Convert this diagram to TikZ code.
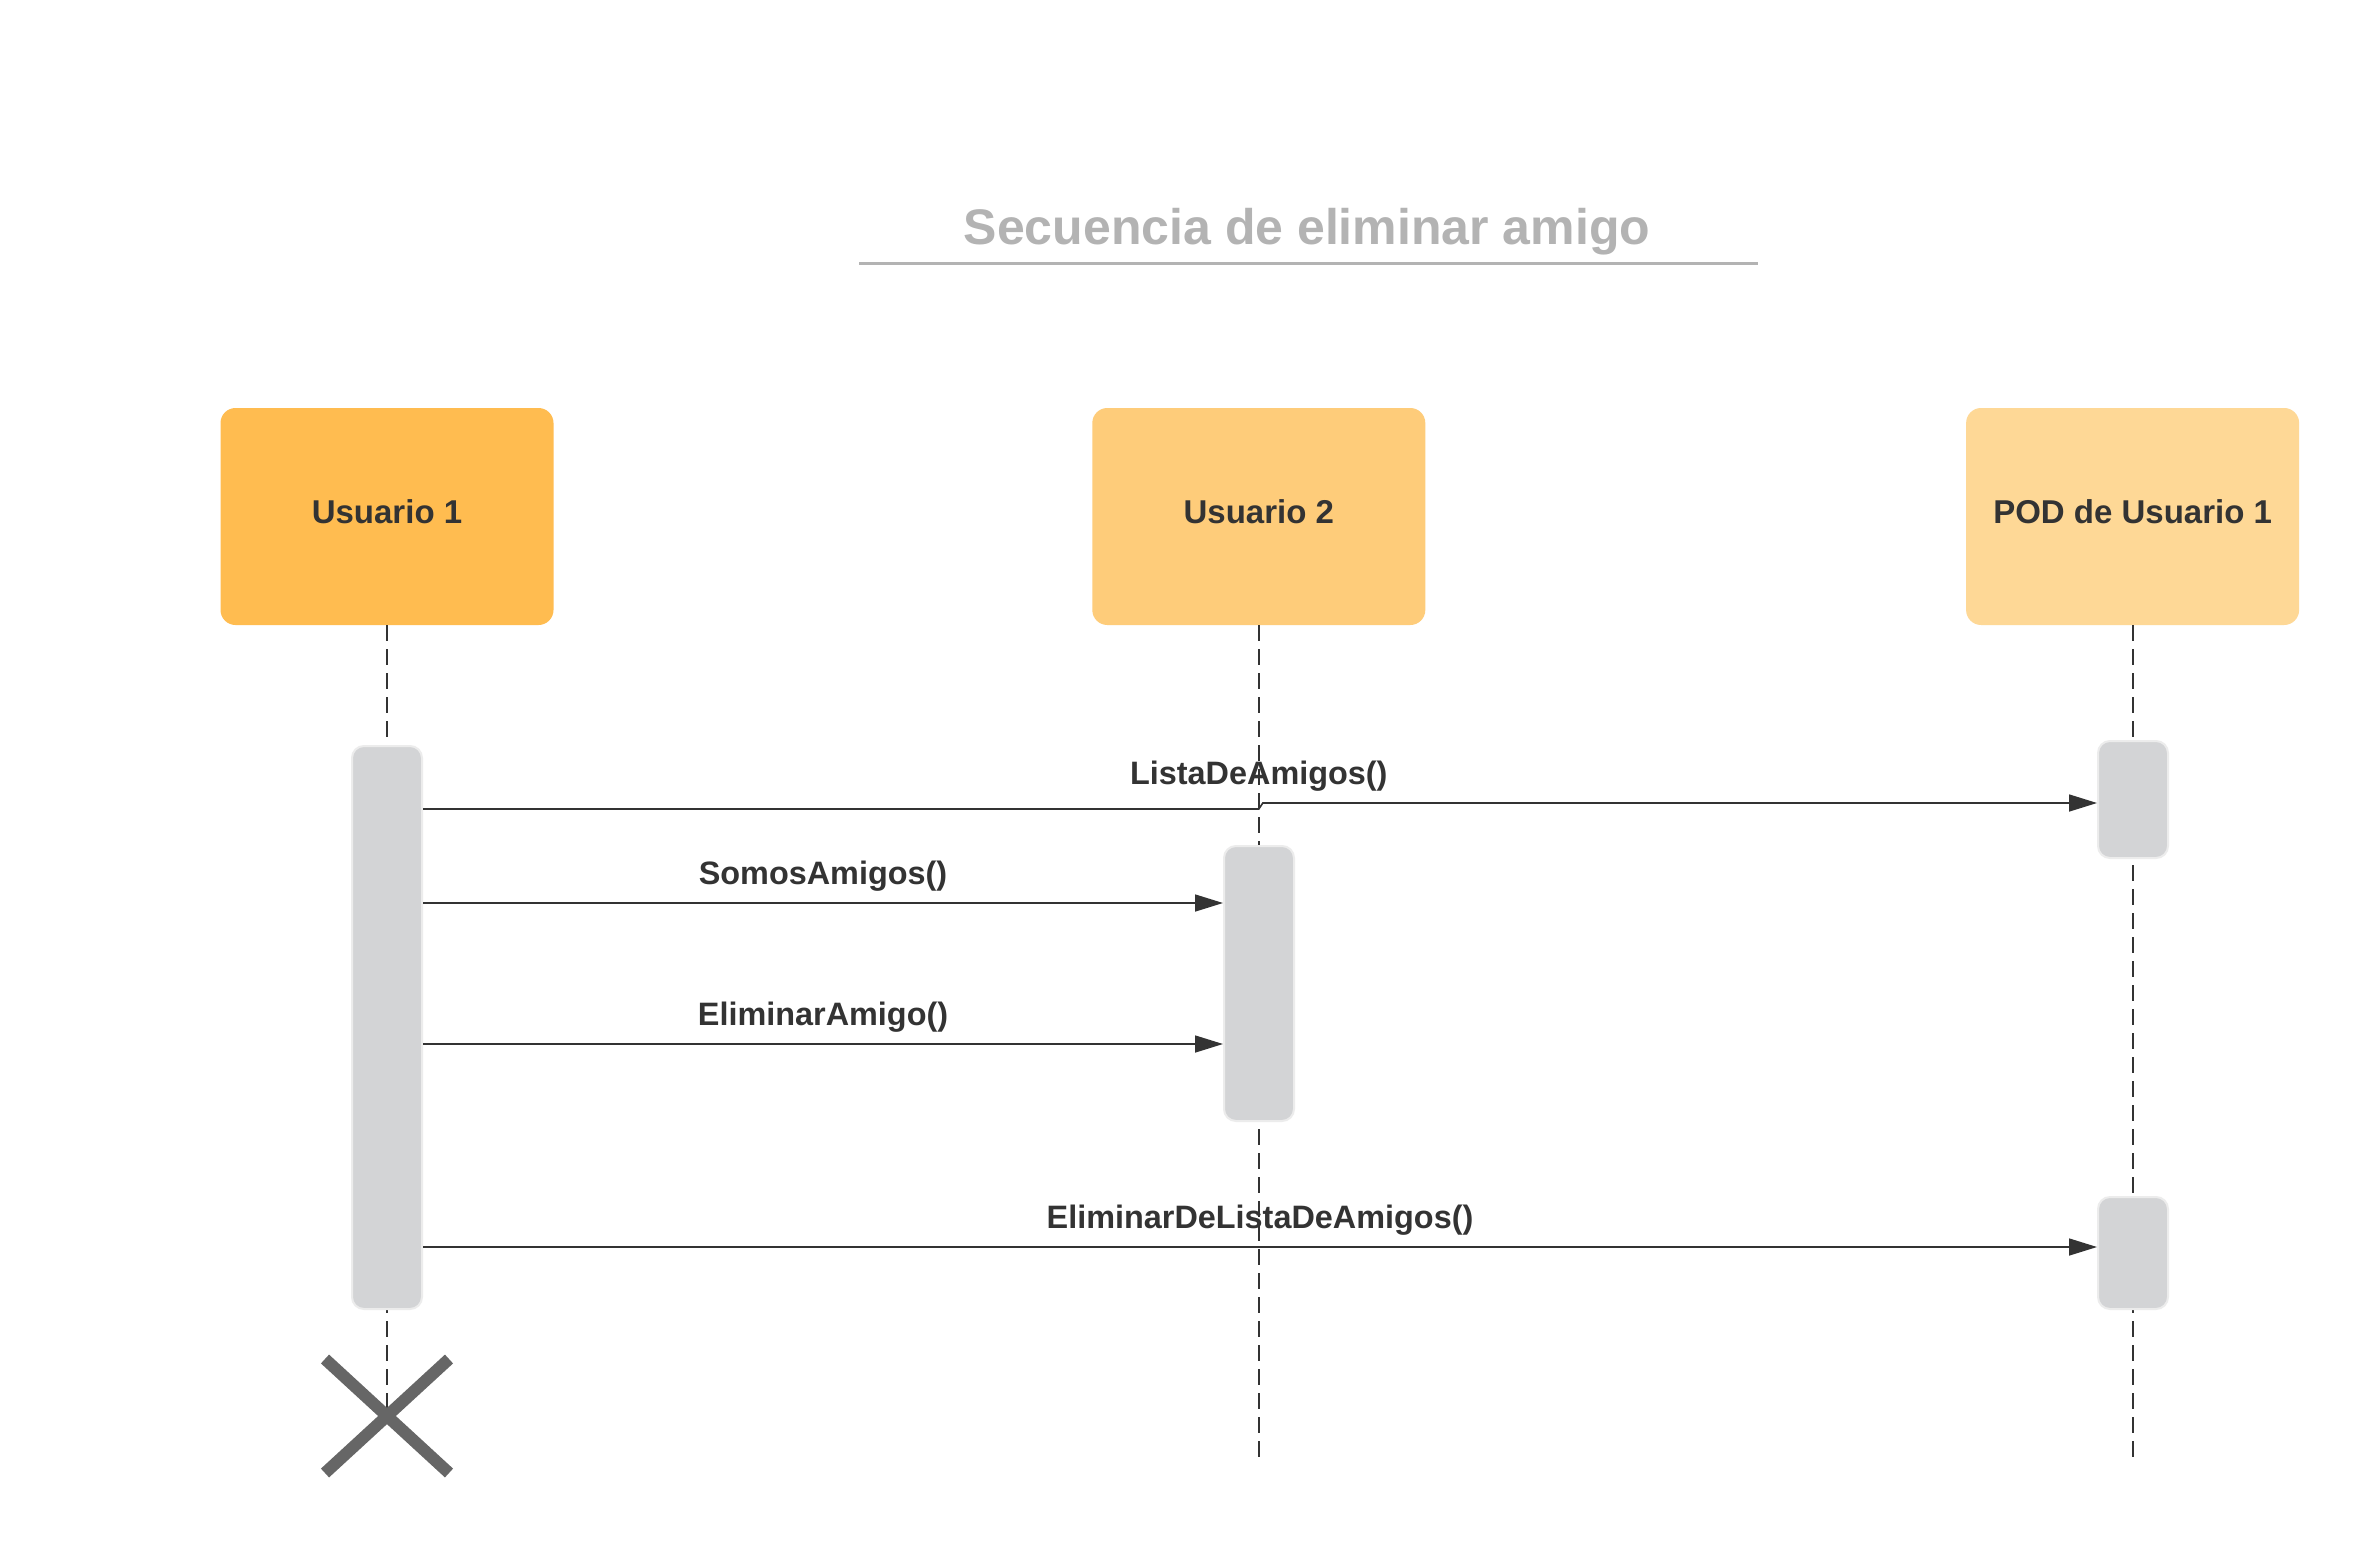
\documentclass[tikz,border=0pt]{standalone}
\usepackage{fontspec}
\setmainfont{Liberation Sans}
\usetikzlibrary{arrows.meta, positioning}

\definecolor{ink}{HTML}{333333}
\definecolor{titlegray}{HTML}{B3B3B3}
\definecolor{orangeA}{HTML}{FFBC50}
\definecolor{orangeB}{HTML}{FECC7A}
\definecolor{orangeC}{HTML}{FED896}
\definecolor{barfill}{HTML}{D3D4D6}
\definecolor{barline}{HTML}{ECECEC}
\definecolor{crossgray}{HTML}{666666}

\begin{document}
\begin{tikzpicture} [
						x=0.5pt, y=-0.5pt,
						node distance=269pt,
						actor/.style={rectangle, rounded corners=7.5pt, minimum width=166.5pt, minimum height=108.5pt, text depth=4.5pt, text=ink, font=\bfseries\fontsize{16.5}{20}\selectfont},
						activation/.style={rectangle, rounded corners=6pt, fill=barfill, draw=barline, line width=1pt, minimum width=35pt, inner sep=0pt},
						lifeline/.style={draw=ink, line width=1pt, dash pattern=on 8pt off 4pt},
						msg/.style={draw=ink, line width=0.8pt, -{Triangle[length=14pt, width=8.5pt]}},
						msglabel/.style={above=5.5pt, inner sep=0pt, text=ink, font=\bfseries\fontsize{16.2}{20}\selectfont}
					]

\fill[white] (0,0) rectangle (2372,1558);
\useasboundingbox (0,0) rectangle (2372,1558);

\node (titulo) [text=titlegray, font=\bfseries\fontsize{25}{30}\selectfont] at (1307,231.5) {Secuencia de eliminar amigo};
\draw[titlegray, line width=1.5pt] (859,263) -- (1758,263);

\node (u1) [actor, fill=orangeA] at (387,516.5) {Usuario 1};
\node (u2) [actor, fill=orangeB, right=of u1] {Usuario 2};
\node (pod) [actor, fill=orangeC, right=270pt of u2] {POD de Usuario 1};

\coordinate (kill) at (387,1416);
\coordinate (fin) at (0,1460);

\draw[lifeline] (u1.south) -- (kill);
\draw[lifeline] (u2.south) -- (u2 |- fin);
\draw[lifeline] (pod.south) -- (pod |- fin);

\node (b1) [activation, minimum height=281.5pt] at (387,1027.5) {};
\node (b2) [activation, minimum height=137.5pt] at (1259,983.5) {};
\node (p1) [activation, minimum height=58.5pt] at (2133,799.5) {};
\node (p2) [activation, minimum height=56pt] at (2133,1253) {};

\draw[msg] (b1.east |- 0,809) -- (u2 |- 0,809) node[msglabel, above=8.5pt] {ListaDeAmigos()} -- ++(4,-6) -- (p1.west |- 0,803);
\draw[msg] (b1.east |- 0,903) -- node[msglabel] {SomosAmigos()} (b2.west |- 0,903);
\draw[msg] (b1.east |- 0,1044) -- node[msglabel] {EliminarAmigo()} (b2.west |- 0,1044);
\draw[msg] (b1.east |- 0,1247) -- node[msglabel] {EliminarDeListaDeAmigos()} (p2.west |- 0,1247);

\draw[crossgray, line width=6pt] (kill) +(-62,-57) -- +(62,57);
\draw[crossgray, line width=6pt] (kill) +(-62,57) -- +(62,-57);
\end{tikzpicture}
\end{document}
